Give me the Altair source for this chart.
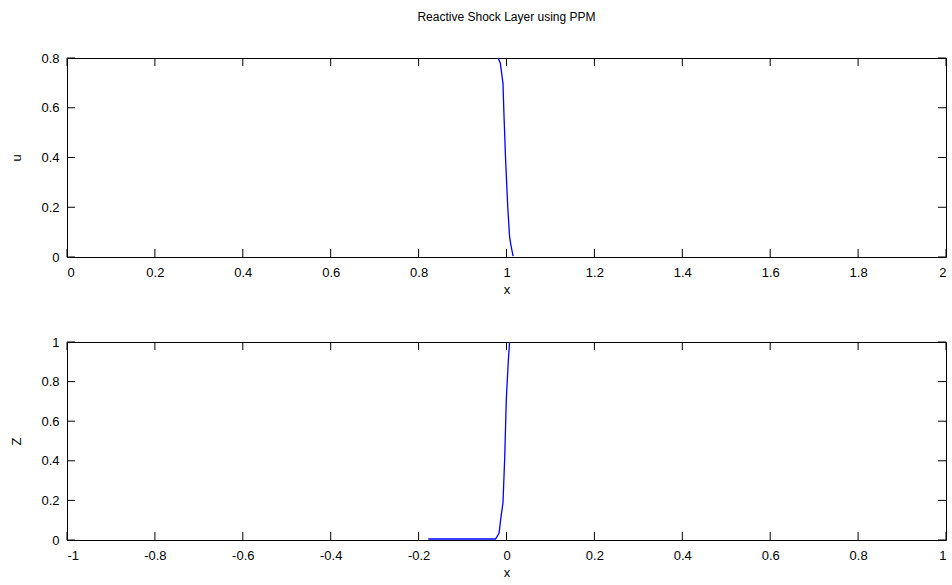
import altair as alt
import pandas as pd

title_text = "Reactive Shock Layer using PPM"

# top panel: u(x)
u_x = [0.981, 0.986, 0.992, 0.994, 0.998, 1.003, 1.007, 1.010, 1.015]
u_y = [0.800, 0.779, 0.698, 0.584, 0.390, 0.196, 0.082, 0.048, 0.004]

# bottom panel: Z(x)
z_x = [-0.178, -0.025, -0.017, -0.0125, -0.008, -0.004, -0.0005, 0.004, 0.007]
z_y = [0.005, 0.005, 0.034, 0.118, 0.188, 0.420, 0.707, 0.900, 1.000]

top_x_ticks = [0, 0.2, 0.4, 0.6, 0.8, 1, 1.2, 1.4, 1.6, 1.8, 2]
top_y_ticks = [0, 0.2, 0.4, 0.6, 0.8]
bot_x_ticks = [-1, -0.8, -0.6, -0.4, -0.2, 0, 0.2, 0.4, 0.6, 0.8, 1]
bot_y_ticks = [0, 0.2, 0.4, 0.6, 0.8, 1]

W = 879
TICK = 8
FONT = "Liberation Sans"
LBL = "'' + datum.value"


def panel(xs, ys, xticks, yticks, xdom, ydom, ytitle, h, title=None):
    xsc = alt.Scale(domain=xdom, nice=False, zero=False)
    ysc = alt.Scale(domain=ydom, nice=False, zero=False)
    xaxis = alt.Axis(values=xticks, labelExpr=LBL, ticks=False, tickSize=0,
                     grid=False, domain=False, title="x",
                     labelPadding=9, titlePadding=4)
    yaxis = alt.Axis(values=yticks, labelExpr=LBL, ticks=False, tickSize=0,
                     grid=False, domain=False, title=ytitle,
                     labelPadding=8, titlePadding=17)
    line = alt.Chart(pd.DataFrame({"x": xs, "y": ys})).mark_line(
        color="#0000ff", strokeWidth=1.3
    ).encode(
        x=alt.X("x:Q", scale=xsc, axis=xaxis),
        y=alt.Y("y:Q", scale=ysc, axis=yaxis),
    )
    xt = pd.DataFrame({"x": xticks})
    yt = pd.DataFrame({"y": yticks})
    bt = alt.Chart(xt).mark_rule(color="black", strokeWidth=1).encode(
        x=alt.X("x:Q", scale=xsc, axis=xaxis), y=alt.value(h), y2=alt.value(h - TICK))
    tt = alt.Chart(xt).mark_rule(color="black", strokeWidth=1).encode(
        x=alt.X("x:Q", scale=xsc, axis=xaxis), y=alt.value(0), y2=alt.value(TICK))
    lt = alt.Chart(yt).mark_rule(color="black", strokeWidth=1).encode(
        y=alt.Y("y:Q", scale=ysc, axis=yaxis), x=alt.value(0), x2=alt.value(TICK))
    rt = alt.Chart(yt).mark_rule(color="black", strokeWidth=1).encode(
        y=alt.Y("y:Q", scale=ysc, axis=yaxis), x=alt.value(W), x2=alt.value(W - TICK))
    props = dict(width=W, height=h)
    if title is not None:
        props["title"] = alt.TitleParams(text=title, font=FONT, fontSize=12,
                                         fontWeight="normal", color="black",
                                         anchor="middle", frame="group", offset=28)
    return alt.layer(line, bt, tt, lt, rt).properties(**props)


top = panel(u_x, u_y, top_x_ticks, top_y_ticks, [0, 2], [0, 0.8], "u", 199, title_text)
bottom = panel(z_x, z_y, bot_x_ticks, bot_y_ticks, [-1, 1], [0, 1], "Z", 198)

chart = alt.vconcat(top, bottom, spacing=38).properties(
    padding={"left": 10, "top": 10, "right": 5, "bottom": 2},
    background="white",
).configure_view(
    stroke="black", strokeWidth=1
).configure_axis(
    labelFont=FONT, labelFontSize=13, labelColor="black",
    titleFont=FONT, titleFontSize=13, titleColor="black", titleFontWeight="normal",
)

chart.save("out.html", embed_options={"renderer": "svg", "actions": False})
